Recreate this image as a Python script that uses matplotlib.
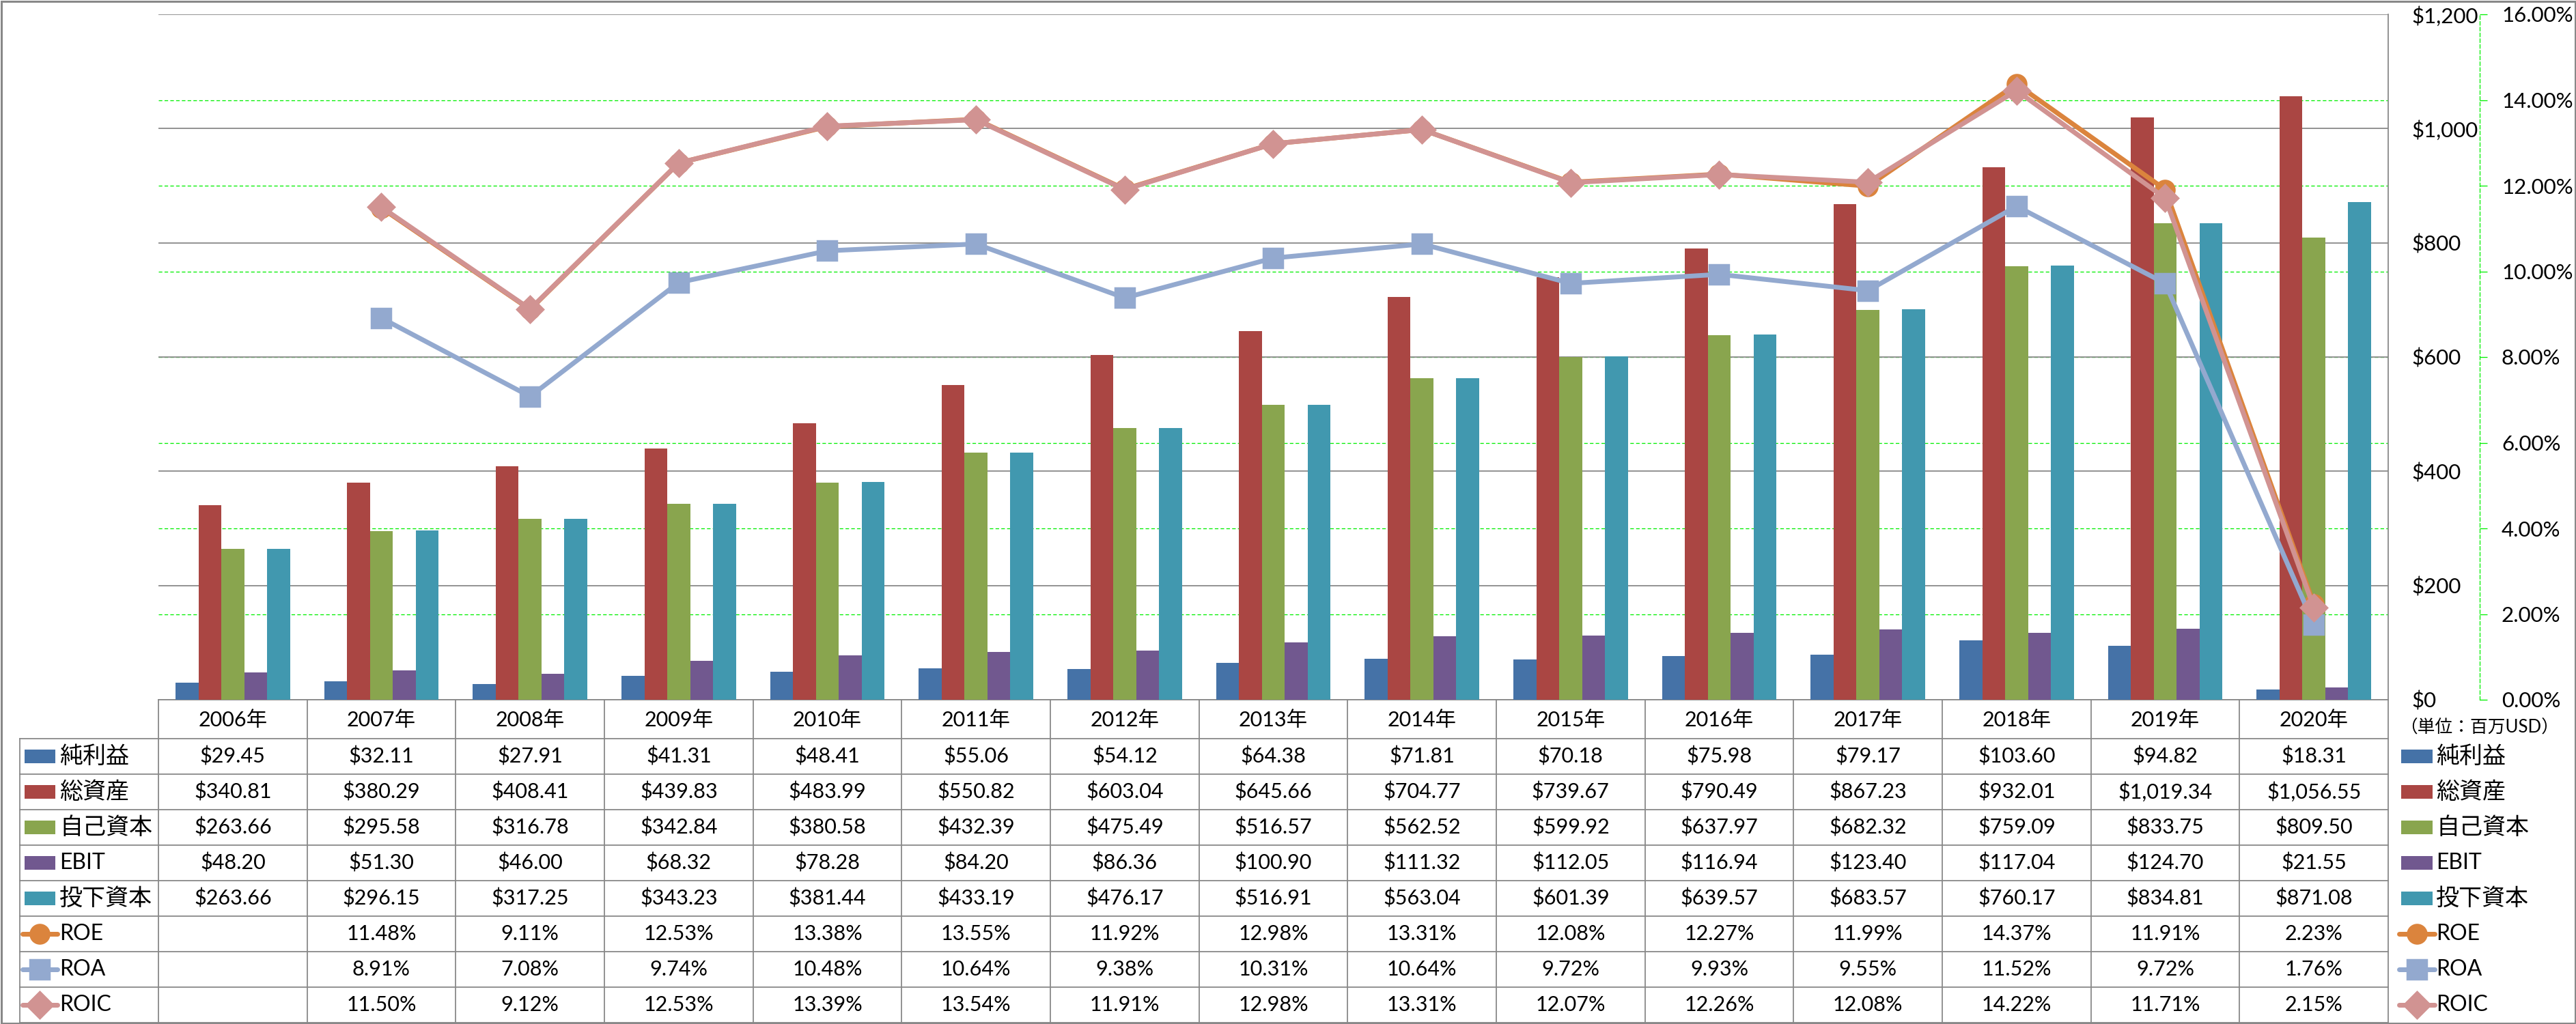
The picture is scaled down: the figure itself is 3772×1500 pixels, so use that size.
import numpy as np
import matplotlib
matplotlib.use("Agg")
import matplotlib.pyplot as plt
from matplotlib.lines import Line2D
from matplotlib.patches import Rectangle
from matplotlib.ticker import FuncFormatter, FixedLocator
import matplotlib.transforms as mtransforms

plt.rcParams['font.family'] = ['Lato', 'Noto Sans CJK JP', 'DejaVu Sans']

# ---------------- data ----------------
years = ['2006年', '2007年', '2008年', '2009年', '2010年', '2011年', '2012年', '2013年',
         '2014年', '2015年', '2016年', '2017年', '2018年', '2019年', '2020年']
net_income = [29.45, 32.11, 27.91, 41.31, 48.41, 55.06, 54.12, 64.38, 71.81, 70.18,
              75.98, 79.17, 103.60, 94.82, 18.31]
total_assets = [340.81, 380.29, 408.41, 439.83, 483.99, 550.82, 603.04, 645.66, 704.77,
                739.67, 790.49, 867.23, 932.01, 1019.34, 1056.55]
equity = [263.66, 295.58, 316.78, 342.84, 380.58, 432.39, 475.49, 516.57, 562.52,
          599.92, 637.97, 682.32, 759.09, 833.75, 809.50]
ebit = [48.20, 51.30, 46.00, 68.32, 78.28, 84.20, 86.36, 100.90, 111.32, 112.05,
        116.94, 123.40, 117.04, 124.70, 21.55]
invested = [263.66, 296.15, 317.25, 343.23, 381.44, 433.19, 476.17, 516.91, 563.04,
            601.39, 639.57, 683.57, 760.17, 834.81, 871.08]
roe = [np.nan, 11.48, 9.11, 12.53, 13.38, 13.55, 11.92, 12.98, 13.31, 12.08, 12.27,
       11.99, 14.37, 11.91, 2.23]
roa = [np.nan, 8.91, 7.08, 9.74, 10.48, 10.64, 9.38, 10.31, 10.64, 9.72, 9.93, 9.55,
       11.52, 9.72, 1.76]
roic = [np.nan, 11.50, 9.12, 12.53, 13.39, 13.54, 11.91, 12.98, 13.31, 12.07, 12.26,
        12.08, 14.22, 11.71, 2.15]

bar_names = ['純利益', '総資産', '自己資本', 'EBIT', '投下資本']
line_names = ['ROE', 'ROA', 'ROIC']
usd_ticks = [0, 200, 400, 600, 800, 1000, 1200]
pct_ticks = [0, 2, 4, 6, 8, 10, 12, 14, 16]
unit_label = '（単位：百万USD）'

# ---------------- style ----------------
bar_colors = ['#4572A7', '#AA4643', '#89A54E', '#71588F', '#4198AF']
line_colors = ['#DB843D', '#93A9CF', '#D19392']
line_markers = ['o', 's', 'D']
GRAY = '#888888'
GREEN = '#00F000'
NUM_FS = 22
CJK_FS = 24.5

W, H = 3773, 1500
DPI = 100
fig = plt.figure(figsize=(W / DPI, H / DPI), dpi=DPI)


def fx(x):
    return x / W


def fy(y):
    return 1 - y / H


PX = 72 / DPI  # points per pixel
LW = 7 * PX
MS = 19.5

ax_l, ax_r, ax_t, ax_b = 232, 3497, 21, 1025
ax = fig.add_axes([fx(ax_l), fy(ax_b), fx(ax_r - ax_l), (ax_b - ax_t) / H])
ax2 = ax.twinx()

n = len(years)
x = np.arange(n)
bw = 0.154
bar_series = [net_income, total_assets, equity, ebit, invested]
for i, (vals, col) in enumerate(zip(bar_series, bar_colors)):
    ax.bar(x + (i - 2) * bw, vals, width=bw, color=col, zorder=3, linewidth=0)

ax.set_xlim(-0.5, n - 0.5)
ax.set_ylim(usd_ticks[0], usd_ticks[-1])
ax.set_axisbelow(True)
ax.set_xticks([])
ax.yaxis.tick_right()
ax.yaxis.set_major_locator(FixedLocator(usd_ticks))
ax.yaxis.set_major_formatter(FuncFormatter(lambda v, p: '${:,.0f}'.format(v)))
ax.tick_params(axis='y', length=0, pad=34 * PX, labelsize=22.5)
ax.yaxis.grid(True, color=GRAY, linewidth=1.8 * PX)
for side in ['left', 'top']:
    ax.spines[side].set_visible(False)
ax.spines['right'].set_color(GRAY)
ax.spines['right'].set_linewidth(1.8 * PX)
ax.spines['bottom'].set_color(GRAY)
ax.spines['bottom'].set_linewidth(1.8 * PX)

# secondary (percent) gridlines drawn on primary axes so bars cover them
scale = usd_ticks[-1] / pct_ticks[-1]
for t in pct_ticks[1:-1]:
    ax.axhline(t * scale, color=GREEN, linewidth=1.3 * PX, linestyle=(0, (4, 2.5)),
               zorder=0.3)

# lines on secondary axis
for vals, col, mk in zip([roe, roa, roic], line_colors, line_markers):
    ax2.plot(x, vals, color=col, linewidth=LW, marker=mk, markersize=MS,
             markerfacecolor=col, markeredgecolor=col, markeredgewidth=2.5, zorder=4)

ax2.set_ylim(pct_ticks[0], pct_ticks[-1])
ax2.yaxis.set_major_locator(FixedLocator(pct_ticks))
ax2.yaxis.set_major_formatter(FuncFormatter(lambda v, p: '{:.2f}%'.format(v)))
for side in ['left', 'top', 'bottom']:
    ax2.spines[side].set_visible(False)
ax2.spines['right'].set_position(('axes', (3631 - ax_l) / (ax_r - ax_l)))
ax2.spines['right'].set_color(GREEN)
ax2.spines['right'].set_linewidth(1.3 * PX)
ax2.spines['right'].set_linestyle((0, (4, 2.5)))
ax2.tick_params(axis='y', direction='out', length=11 * PX, width=1.3 * PX,
                color=GREEN, pad=21 * PX, labelsize=22.5)
ax2.patch.set_visible(False)

# ---------------- data table ----------------
tline = dict(color=GRAY, linewidth=1.8 * PX, transform=fig.transFigure)
blend = mtransforms.blended_transform_factory(ax.transData, fig.transFigure)

header_top = ax_b
row_top = 1082
row_h = (1498 - 1082) / 8
label_left = 29

for k in range(9):
    yy = row_top + k * row_h
    fig.add_artist(Line2D([fx(label_left), fx(ax_r)], [fy(yy), fy(yy)], **tline))
for k in range(n + 1):
    xb = k - 0.5
    fig.add_artist(Line2D([xb, xb], [fy(header_top), fy(1498)], color=GRAY,
                          linewidth=1.8 * PX, transform=blend))
fig.add_artist(Line2D([fx(label_left), fx(label_left)], [fy(row_top), fy(1498)], **tline))

for i, yl in enumerate(years):
    fig.text(x[i], fy((header_top + row_top) / 2 + 1), yl, transform=blend,
             ha='center', va='center', fontsize=NUM_FS)

rows_text = []
for vals in bar_series:
    rows_text.append(['${:,.2f}'.format(v) for v in vals])
for vals in [roe, roa, roic]:
    rows_text.append(['' if np.isnan(v) else '{:.2f}%'.format(v) for v in vals])

for r, texts in enumerate(rows_text):
    yc = row_top + (r + 0.5) * row_h
    for i, t in enumerate(texts):
        fig.text(x[i], fy(yc), t, transform=blend, ha='center', va='center',
                 fontsize=NUM_FS)


def draw_key(r, x0, x1, text_x):
    yc = row_top + (r + 0.5) * row_h
    if r < 5:
        fig.add_artist(Rectangle((fx(x0), fy(yc + 10)), fx(x1 - x0), 20 / H,
                                 facecolor=bar_colors[r], edgecolor='none',
                                 transform=fig.transFigure))
        label = bar_names[r]
    else:
        j = r - 5
        fig.add_artist(Line2D([fx(x0 - 3), fx(x1 + 3)], [fy(yc), fy(yc)],
                              color=line_colors[j], linewidth=LW,
                              transform=fig.transFigure, solid_capstyle='round'))
        fig.add_artist(Line2D([fx((x0 + x1) / 2)], [fy(yc)], marker=line_markers[j],
                              markersize=MS, color=line_colors[j],
                              markeredgewidth=2.5, linestyle='none',
                              transform=fig.transFigure))
        label = line_names[j]
    fs = CJK_FS if r < 5 and label != 'EBIT' else NUM_FS + 1
    fig.text(fx(text_x), fy(yc), label, ha='left', va='center', fontsize=fs)


for r in range(8):
    draw_key(r, 36, 81, 87)
    draw_key(r, 3516, 3562, 3567)

fig.text(fx(3631), fy(1066), unit_label, ha='center', va='center', fontsize=18.5)

fig.add_artist(Rectangle((0.0004, 0.001), 0.9992, 0.998, fill=False, edgecolor=GRAY,
                         linewidth=3 * PX, transform=fig.transFigure))

fig.savefig('out.png', dpi=DPI)
